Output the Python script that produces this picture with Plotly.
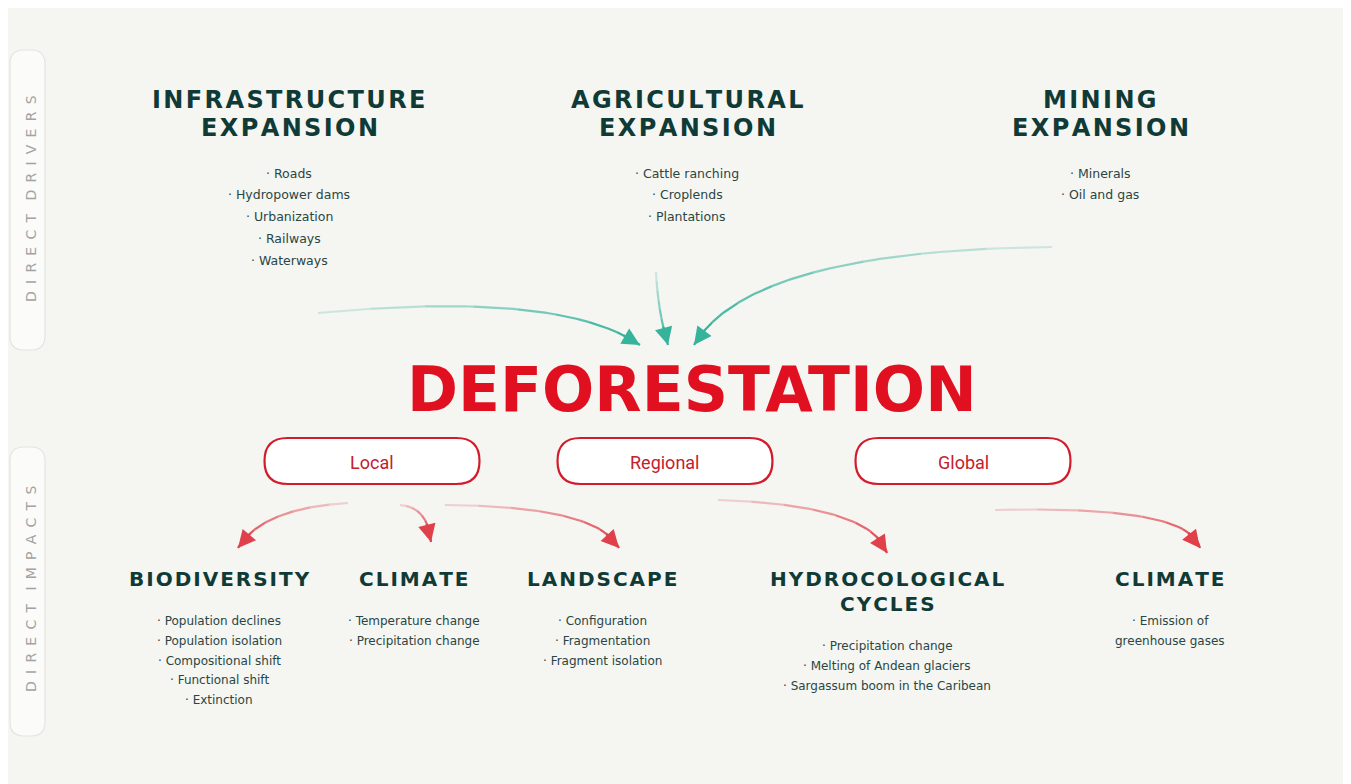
import numpy as np
import plotly.graph_objects as go

# ---------------- content ----------------
driver_titles = [["INFRASTRUCTURE", "EXPANSION"], ["AGRICULTURAL", "EXPANSION"], ["MINING", "EXPANSION"]]
driver_items = [
    ["Roads", "Hydropower dams", "Urbanization", "Railways", "Waterways"],
    ["Cattle ranching", "Croplends", "Plantations"],
    ["Minerals", "Oil and gas"],
]
center_title = "DEFORESTATION"
scopes = ["Local", "Regional", "Global"]
impact_titles = [["BIODIVERSITY"], ["CLIMATE"], ["LANDSCAPE"], ["HYDROCOLOGICAL", "CYCLES"], ["CLIMATE"]]
impact_items = [
    ["· Population declines", "· Population isolation", "· Compositional shift", "· Functional shift", "· Extinction"],
    ["· Temperature change", "· Precipitation change"],
    ["· Configuration", "· Fragmentation", "· Fragment isolation"],
    ["· Precipitation change", "· Melting of Andean glaciers", "· Sargassum boom in the Caribean"],
    ["· Emission of", "greenhouse gases"],
]
side_labels = ["DIRECT DRIVERS", "DIRECT IMPACTS"]

# ---------------- layout (page pixel space; page has an 8px body margin) ----------------
W, H = 1351, 784
OFF = 8
driver_x = [289, 687, 1100]
driver_title_y = [100, 128]
driver_item_y0, driver_item_dy = 173, 21.8
scope_x = [372, 665, 963]
scope_y, scope_w, scope_h = 461, 215, 46
impact_x = [219, 414, 602, 887, 1170]
impact_title_y = [579, 604]
impact_item_y0 = [621, 621, 621, 646, 621]
impact_item_dy = 19.8
side_y = [199, 589]
side_box = [(10, 50, 45, 350), (10, 447, 45, 736)]

# arrow curves: (start, control, end) quadratic beziers
teal_curves = [((318, 313), (560, 290), (640, 345)),
               ((656, 272), (658, 312), (668, 345)),
               ((1052, 247), (750, 250), (694, 345))]
red_curves = [((348, 503), (262, 508), (238, 548)),
              ((400, 505), (428, 507), (431, 542)),
              ((445, 505), (598, 506), (619, 548)),
              ((718, 500), (872, 505), (887, 553)),
              ((995, 510), (1190, 505), (1200, 548))]

BG = "#f5f5f2"
TEAL_TXT = "#0f3a36"
BODY_TXT = "#2a4643"
RED = "#e01020"
TEAL_ARROW = "#36b39b"
RED_ARROW = "#e0404a"
HAIR = "\u200a"

fig = go.Figure()
shapes, annos = [], []


def spaced(s, sep=HAIR):
    return sep.join(s)


def rounded_rect(x0, y0, x1, y1, r):
    return (f"M {x0+r},{y0} L {x1-r},{y0} Q {x1},{y0} {x1},{y0+r} "
            f"L {x1},{y1-r} Q {x1},{y1} {x1-r},{y1} L {x0+r},{y1} "
            f"Q {x0},{y1} {x0},{y1-r} L {x0},{y0+r} Q {x0},{y0} {x0+r},{y0} Z")


# side bands
for (x0, y0, x1, y1), lab, cy in zip(side_box, side_labels, side_y):
    shapes.append(dict(type="path", path=rounded_rect(x0, y0, x1, y1, 14), xref="x", yref="y",
                       fillcolor="#fbfbfa", line=dict(color="#e4e4e1", width=1.2), layer="below"))
    txt = "   ".join(" \u2009".join(w) for w in lab.split(" "))
    annos.append(dict(x=31, y=cy, text=txt, textangle=-90, showarrow=False,
                      font=dict(family="DejaVu Sans", size=14, color="#a3a3a3"),
                      xanchor="center", yanchor="middle"))

# driver titles and items
for cx, title, items in zip(driver_x, driver_titles, driver_items):
    for ty, line in zip(driver_title_y, title):
        annos.append(dict(x=cx, y=ty, text=f"<b>{spaced(line)}</b>", showarrow=False,
                          font=dict(family="DejaVu Sans", size=24, color=TEAL_TXT),
                          xanchor="center", yanchor="middle"))
    for i, it in enumerate(items):
        annos.append(dict(x=cx, y=driver_item_y0 + i * driver_item_dy, text="· " + it, showarrow=False,
                          font=dict(family="DejaVu Sans", size=12.5, color=BODY_TXT),
                          xanchor="center", yanchor="middle"))

# center title
annos.append(dict(x=692, y=390, text=f"<b>{center_title}</b>", showarrow=False,
                  font=dict(family="DejaVu Sans", size=61.5, color=RED),
                  xanchor="center", yanchor="middle"))

# scope pills
for cx, s in zip(scope_x, scopes):
    x0, x1 = cx - scope_w / 2, cx + scope_w / 2
    y0, y1 = scope_y - scope_h / 2, scope_y + scope_h / 2
    shapes.append(dict(type="path", path=rounded_rect(x0, y0, x1, y1, scope_h / 2), xref="x", yref="y",
                       fillcolor="#ffffff", line=dict(color="#d21c2c", width=2.2)))
    annos.append(dict(x=cx, y=scope_y + 1, text=s, showarrow=False,
                      font=dict(family="Roboto", size=18, color="#c4202c"),
                      xanchor="center", yanchor="middle"))

# impact titles and items
for cx, title, items, y0 in zip(impact_x, impact_titles, impact_items, impact_item_y0):
    for ty, line in zip(impact_title_y, title):
        annos.append(dict(x=cx, y=ty, text=f"<b>{spaced(line)}</b>", showarrow=False,
                          font=dict(family="DejaVu Sans", size=20, color=TEAL_TXT),
                          xanchor="center", yanchor="middle"))
    for i, it in enumerate(items):
        annos.append(dict(x=cx, y=y0 + i * impact_item_dy, text=it, showarrow=False,
                          font=dict(family="DejaVu Sans", size=12, color=BODY_TXT),
                          xanchor="center", yanchor="middle"))


def bezier(p0, p1, p2, n=80):
    t = np.linspace(0, 1, n)[:, None]
    p0, p1, p2 = map(np.array, (p0, p1, p2))
    return (1 - t) ** 2 * p0 + 2 * (1 - t) * t * p1 + t ** 2 * p2


def add_curve(curve, color, arrowsize=1.6):
    pts = bezier(*curve)
    k = 8
    idx = np.linspace(0, len(pts) - 1, k + 1).astype(int)
    for j in range(k):
        seg = pts[idx[j]:idx[j + 1] + 1]
        op = 0.1 + 0.9 * (j + 1) / k
        fig.add_trace(go.Scatter(x=seg[:, 0], y=seg[:, 1], mode="lines",
                                 line=dict(color=color, width=2.2), opacity=op,
                                 hoverinfo="skip", showlegend=False))
    tip = pts[-1]
    d = np.cumsum(np.r_[0, np.hypot(*np.diff(pts[::-1], axis=0).T)])
    back = pts[::-1][np.searchsorted(d, 20)]
    annos.append(dict(x=tip[0], y=tip[1], ax=back[0], ay=back[1], axref="x", ayref="y",
                      xref="x", yref="y", text="", showarrow=True, arrowhead=2,
                      arrowsize=arrowsize, arrowwidth=2.2, arrowcolor=color, standoff=0))


for c in teal_curves:
    add_curve(c, TEAL_ARROW)
for c in red_curves:
    add_curve(c, RED_ARROW)

fig.update_layout(
    width=W - OFF, height=H - OFF, margin=dict(l=0, r=0, t=0, b=0),
    paper_bgcolor=BG, plot_bgcolor=BG,
    xaxis=dict(range=[OFF, W], visible=False, fixedrange=True),
    yaxis=dict(range=[H, OFF], visible=False, fixedrange=True),
    shapes=shapes, annotations=annos, showlegend=False,
)
fig.write_html("out.html", config={"displayModeBar": False})
